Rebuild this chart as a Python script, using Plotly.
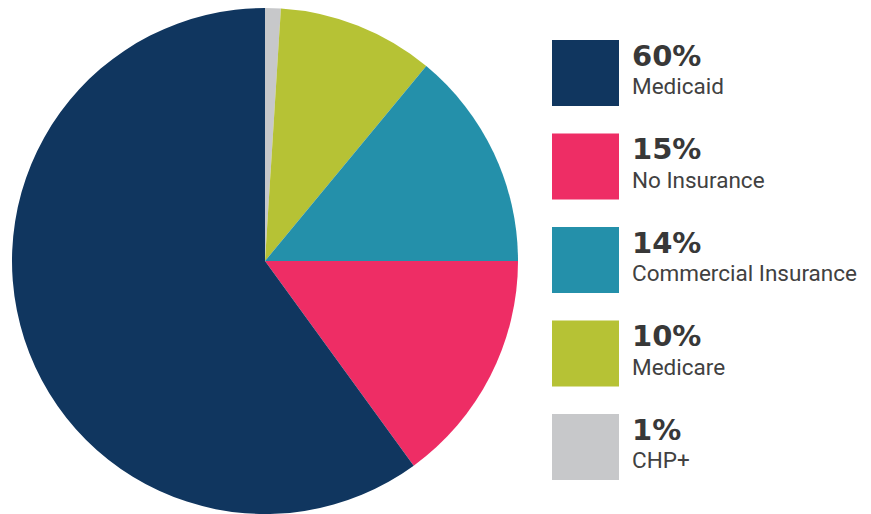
import plotly.graph_objects as go

# Data (clockwise from 12 o'clock)
categories = ["CHP+", "Medicare", "Commercial Insurance", "No Insurance", "Medicaid"]
values = [1, 10, 14, 15, 60]
colors = ["#c7c8ca", "#b6c235", "#2490aa", "#ee2d65", "#10365f"]

# Legend order (top to bottom)
legend_order = ["Medicaid", "No Insurance", "Commercial Insurance", "Medicare", "CHP+"]

# page body has an 8px margin, so the figure is sized to fit the window
W, H = 863, 506


def px_x(px):
    return px / W


def px_y(py):
    return (H - py) / H


fig = go.Figure()
fig.add_trace(go.Pie(
    labels=categories,
    values=values,
    sort=False,
    direction="clockwise",
    rotation=0,
    marker=dict(colors=colors, line=dict(width=0)),
    textinfo="none",
    hoverinfo="label+percent",
    showlegend=False,
    domain=dict(x=[px_x(4), px_x(510)], y=[0, 1]),
))

shapes = []
annotations = []
for i, name in enumerate(legend_order):
    idx = categories.index(name)
    top = 32 + 93.5 * i
    shapes.append(dict(
        type="rect", xref="paper", yref="paper",
        x0=px_x(544), x1=px_x(611), y0=px_y(top + 66), y1=px_y(top),
        fillcolor=colors[idx], line=dict(width=0), layer="above",
    ))
    annotations.append(dict(
        x=px_x(622), y=px_y(top + 15.5), xref="paper", yref="paper",
        xanchor="left", yanchor="middle", showarrow=False,
        text="<b>%d%%</b>" % values[idx],
        font=dict(family="DejaVu Sans", size=29, color="#383838"),
    ))
    annotations.append(dict(
        x=px_x(622), y=px_y(top + 46), xref="paper", yref="paper",
        xanchor="left", yanchor="middle", showarrow=False,
        text=name,
        font=dict(family="Roboto, sans-serif", size=22.5, color="#414141"),
    ))

fig.update_layout(
    width=W, height=H,
    margin=dict(l=0, r=0, t=0, b=0),
    paper_bgcolor="white",
    plot_bgcolor="white",
    shapes=shapes,
    annotations=annotations,
)

fig.write_html("out.html")
